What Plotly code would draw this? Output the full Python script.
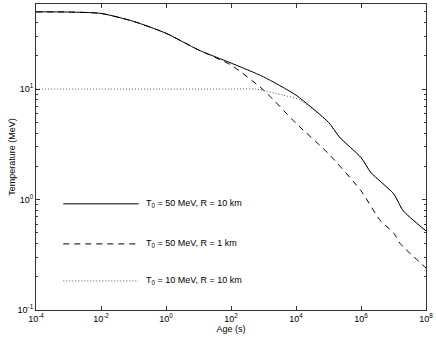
import numpy as np
import plotly.graph_objs as go

# age in seconds and temperature in MeV
age_solid = [1e-4, 1e-3, 1e-2, 1e-1, 1e0, 1e1, 1e2, 1e3, 1e4, 1e5, 2.2e5, 1e6, 2e6, 1e7, 2e7, 1e8]
temp_solid = [50, 49.8, 48.4, 41, 32, 22.6, 17.2, 12.9, 8.8, 5.0, 3.66, 2.4, 1.76, 1.13, 0.79, 0.52]

age_dashed = [1e-4, 1e-3, 1e-2, 1e-1, 1e0, 1e1, 1e2, 1e3, 1e4, 1e5, 1e6, 4e6, 1e7, 1.6e7, 1e8]
temp_dashed = [50, 49.8, 48.4, 41, 32, 22.6, 16.5, 9.8, 4.9, 2.6, 1.2, 0.64, 0.5, 0.40, 0.24]

age_dotted = [1e-4, 1e-2, 1e0, 1e2, 6e2, 4e3, 1.3e4, 1e5, 2.2e5, 1e6, 2e6, 1e7, 2e7, 1e8]
temp_dotted = [10, 10, 10, 10, 10, 8.8, 8.0, 5.0, 3.66, 2.4, 1.76, 1.13, 0.79, 0.52]

x_tick_exp = [-4, -2, 0, 2, 4, 6, 8]
y_tick_exp = [-1, 0, 1]

legend_labels = ['T<sub>0</sub> = 50 MeV, R = 10 km',
                 'T<sub>0</sub> = 50 MeV, R = 1 km',
                 'T<sub>0</sub> = 10 MeV, R = 10 km']

FONT = 'Liberation Sans, Arial, sans-serif'

fig = go.Figure()
fig.add_trace(go.Scatter(x=age_dotted, y=temp_dotted, mode='lines',
                         line=dict(color='#555555', width=1, dash='1px,2px',
                                   shape='spline', smoothing=0.6)))
fig.add_trace(go.Scatter(x=age_dashed, y=temp_dashed, mode='lines',
                         line=dict(color='black', width=1, dash='6px,5px',
                                   shape='spline', smoothing=0.6)))
fig.add_trace(go.Scatter(x=age_solid, y=temp_solid, mode='lines',
                         line=dict(color='black', width=1, shape='spline', smoothing=0.6)))

# hand drawn legend, like the original
styles = [dict(color='black', width=1),
          dict(color='black', width=1, dash='6px,5px'),
          dict(color='#555555', width=1, dash='1px,2px')]
legend_y = [0.347, 0.216, 0.095]
for lbl, st, ly in zip(legend_labels, styles, legend_y):
    fig.add_shape(type='line', xref='paper', yref='paper',
                  x0=0.07, x1=0.263, y0=ly, y1=ly, line=st)
    fig.add_annotation(xref='paper', yref='paper', x=0.278, y=ly, text=lbl,
                       showarrow=False, xanchor='left', yanchor='middle',
                       font=dict(family=FONT, size=9, color='black'))

minor_y = [m * 10.0 ** e for e in range(-1, 2) for m in range(2, 10)]

fig.update_layout(
    width=436, height=340,
    margin=dict(l=36, r=10, t=4, b=30),
    plot_bgcolor='white', paper_bgcolor='white',
    showlegend=False,
    font=dict(family=FONT, size=9, color='black'),
)
fig.update_xaxes(type='log', range=[-4, 8], automargin=False,
                 tickvals=[10.0 ** e for e in x_tick_exp],
                 ticktext=['10<sup>%d</sup>' % e for e in x_tick_exp],
                 showgrid=False, zeroline=False,
                 showline=True, linecolor='#333333', linewidth=1, mirror='ticks',
                 ticks='inside', ticklen=4, tickcolor='#333333',
                 tickfont=dict(size=9),
                 title=dict(text='Age (s)', font=dict(size=9), standoff=0))
fig.update_yaxes(type='log', range=[-1, 1.77], automargin=False,
                 tickvals=[10.0 ** e for e in y_tick_exp],
                 ticktext=['10<sup>%d</sup>' % e for e in y_tick_exp],
                 showgrid=False, zeroline=False,
                 showline=True, linecolor='#333333', linewidth=1, mirror='ticks',
                 ticks='inside', ticklen=4, tickcolor='#333333',
                 minor=dict(tickvals=minor_y, ticks='inside', ticklen=2, tickcolor='#333333'),
                 tickfont=dict(size=9),
                 title=dict(text='Temperature (MeV)', font=dict(size=9), standoff=0))

# the page body has a default margin, drop it so the figure sits at the corner
fig.write_html("out.html", config={'displayModeBar': False},
               post_script="document.body.style.margin='0';document.body.style.overflow='hidden';")
